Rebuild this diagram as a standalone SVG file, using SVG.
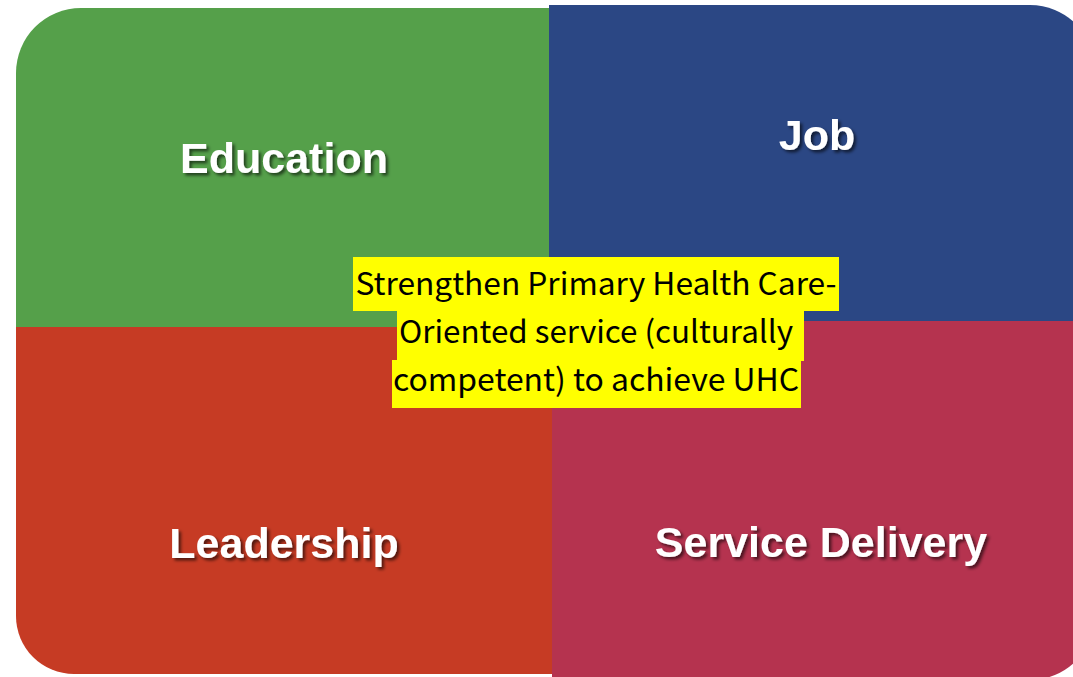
<svg xmlns="http://www.w3.org/2000/svg" width="1073" height="677" viewBox="0 0 1073 677">
<defs>
<style>
.lbl{font-family:"Liberation Sans",Arial,sans-serif;font-weight:bold;font-size:43px;fill:#ffffff;text-anchor:middle;filter:url(#sh);}
.ctr{font-family:"Noto Sans CJK JP","Noto Sans",sans-serif;font-size:31px;fill:#000000;text-anchor:middle;}
.hl{fill:#ffff00;}
</style>
<filter id="sh" x="-10%" y="-30%" width="120%" height="160%">
<feDropShadow dx="2.5" dy="2.5" stdDeviation="1.5" flood-color="#000000" flood-opacity="0.6"/>
</filter>
</defs>
<rect width="1073" height="677" fill="#ffffff"/>
<g id="education">
<path d="M549,8 V327 H16 V73 A65,65 0 0 1 81,8 Z" fill="#55A04A"/>
<text class="lbl" x="284" y="173">Education</text>
</g>
<g id="job">
<path d="M549,5 H1030 A65,65 0 0 1 1095,70 V321 H549 Z" fill="#2B4784"/>
<text class="lbl" x="817" y="150">Job</text>
</g>
<g id="leadership">
<path d="M16,327 H552 V674 H74 A58,58 0 0 1 16,616 Z" fill="#C63B24"/>
<text class="lbl" x="284" y="558">Leadership</text>
</g>
<g id="service-delivery">
<path d="M552,321 H1095 V615 A65,65 0 0 1 1030,680 H552 Z" fill="#B5334F"/>
<text class="lbl" x="821" y="557">Service Delivery</text>
</g>
<g id="center">
<rect class="hl" x="353" y="257" width="486" height="54"/>
<rect class="hl" x="397" y="310" width="407" height="51"/>
<rect class="hl" x="392" y="360" width="409" height="48"/>
<text class="ctr" x="596" y="295" textLength="481" lengthAdjust="spacingAndGlyphs">Strengthen Primary Health Care-</text>
<text class="ctr" x="596" y="343" textLength="394" lengthAdjust="spacingAndGlyphs">Oriented service (culturally</text>
<text class="ctr" x="596" y="391" textLength="406" lengthAdjust="spacingAndGlyphs">competent) to achieve UHC</text>
</g>
<g id="connectors"></g>
</svg>
